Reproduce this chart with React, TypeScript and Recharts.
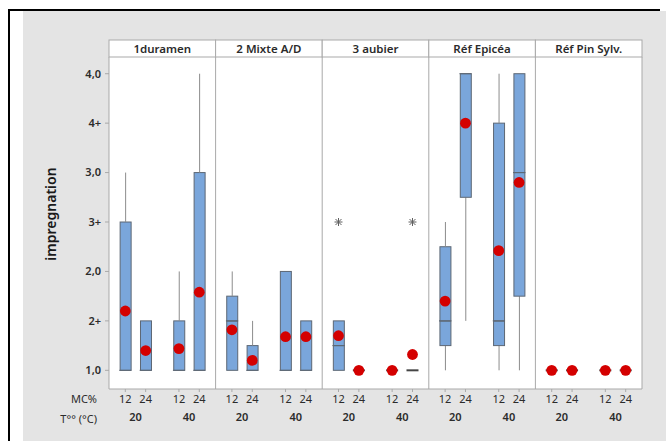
import React from 'react';
import {
  ComposedChart,
  Bar,
  Scatter,
  XAxis,
  YAxis,
  ReferenceLine,
} from 'recharts';

// ---- data ----
const panels = ['1duramen', '2 Mixte A/D', '3 aubier', 'Réf Epicéa', 'Réf Pin Sylv.'];
const temps = ['20', '40'];
const mcs = ['12', '24'];
const yTickValues = [1, 1.5, 2, 2.5, 3, 3.5, 4];
const yTickLabels = ['1,0', '2+', '2,0', '3+', '3,0', '4+', '4,0'];

// order: panel -> T (20, 40) -> MC (12, 24)
const whiskerLow = [
  1, 1, 1, 1,
  1, 1, 1, 1,
  1, 1, 1, 1,
  1, 1.5, 1, 1,
  1, 1, 1, 1,
];
const q1 = [
  1, 1, 1, 1,
  1, 1, 1, 1,
  1, 1, 1, 1,
  1.25, 2.75, 1.25, 1.75,
  1, 1, 1, 1,
];
const median = [
  1, 1, 1, 1,
  1.5, 1, 1, 1,
  1.25, 1, 1, 1,
  1.5, 4, 1.5, 3,
  1, 1, 1, 1,
];
const q3 = [
  2.5, 1.5, 1.5, 3,
  1.75, 1.25, 2, 1.5,
  1.5, 1, 1, 1,
  2.25, 4, 3.5, 4,
  1, 1, 1, 1,
];
const whiskerHigh = [
  3, 1.5, 2, 4,
  2, 1.5, 2, 1.5,
  1.5, 1, 1, 1,
  2.5, 4, 4, 4,
  1, 1, 1, 1,
];
const means = [
  1.6, 1.2, 1.22, 1.79,
  1.41, 1.1, 1.34, 1.34,
  1.35, 1, 1, 1.16,
  1.7, 3.5, 2.21, 2.9,
  1, 1, 1, 1,
];
const outliers: (number | null)[] = [
  null, null, null, null,
  null, null, null, null,
  2.5, null, null, 2.5,
  null, null, null, null,
  null, null, null, null,
];

// ---- layout constants ----
const slotOffsets = [0.153, 0.344, 0.656, 0.847];
const PANEL_PX = 533 / 5;
const BOX_PX = 11;
const FONT = '"Noto Sans", "Open Sans", sans-serif';
const TEXT = '#2b2b2b';
const GRID = '#a9a9a9';
const BOX_FILL = '#7aa6db';
const BOX_STROKE = '#5d6774';

const data: any[] = [];
panels.forEach((_, p) => {
  temps.forEach((_t, t) => {
    mcs.forEach((_m, m) => {
      const i = p * 4 + t * 2 + m;
      data.push({
        pos: p + slotOffsets[t * 2 + m],
        mc: mcs[m],
        base: whiskerLow[i],
        lowW: q1[i] - whiskerLow[i],
        lowB: median[i] - q1[i],
        upB: q3[i] - median[i],
        upW: whiskerHigh[i] - q3[i],
        median: median[i],
        collapsed: q3[i] === q1[i],
        mean: means[i],
        outlier: outliers[i],
      });
    });
  });
});

const mcTicks = data.map((d) => d.pos);
const groupTicks: { pos: number; label: string }[] = [];
panels.forEach((_, p) => {
  temps.forEach((t, ti) => {
    groupTicks.push({
      pos: p + (slotOffsets[ti * 2] + slotOffsets[ti * 2 + 1]) / 2,
      label: t,
    });
  });
});
const panelTicks = panels.map((_, p) => p + 0.5);

const near = (a: number, b: number) => Math.abs(a - b) < 1e-6;

const WhiskerShape = (props: any) => {
  const { x, y, width, height } = props;
  if (!height) return <g />;
  const cx = x + width / 2;
  return <line x1={cx} x2={cx} y1={y} y2={y + height} stroke="#8c8c8c" strokeWidth={1} />;
};

const BoxShape = (props: any) => {
  const { x, y, width, height } = props;
  if (!height) return <g />;
  return (
    <rect
      x={x}
      y={y}
      width={width}
      height={height}
      fill={BOX_FILL}
      stroke={BOX_STROKE}
      strokeWidth={1}
    />
  );
};

const MedianShape = (props: any) => {
  const { cx, cy, payload } = props;
  const collapsed = payload && payload.collapsed;
  return (
    <line
      x1={cx - BOX_PX / 2 - 0.5}
      x2={cx + BOX_PX / 2 + 0.5}
      y1={cy}
      y2={cy}
      stroke={collapsed ? '#454545' : BOX_STROKE}
      strokeWidth={collapsed ? 2 : 1}
    />
  );
};

const MeanShape = (props: any) => {
  const { cx, cy } = props;
  return <circle cx={cx} cy={cy} r={5.4} fill="#d40000" />;
};

const OutlierShape = (props: any) => {
  const { cx, cy, payload } = props;
  if (payload == null || payload.outlier == null) return <g />;
  const s = 4;
  const d = 3;
  return (
    <g stroke="#606060" strokeWidth={1}>
      <line x1={cx - s} x2={cx + s} y1={cy} y2={cy} />
      <line x1={cx} x2={cx} y1={cy - s} y2={cy + s} />
      <line x1={cx - d} x2={cx + d} y1={cy - d} y2={cy + d} />
      <line x1={cx - d} x2={cx + d} y1={cy + d} y2={cy - d} />
    </g>
  );
};

const HeaderTick = (props: any) => {
  const { x, payload } = props;
  const idx = Math.floor(payload.value);
  return (
    <g>
      <rect x={x - PANEL_PX / 2} y={40} width={PANEL_PX} height={17} fill="#ffffff" stroke={GRID} strokeWidth={1} />
      <text x={x} y={52.5} textAnchor="middle" fontFamily={FONT} fontSize={11.5} fontWeight={600} fill={TEXT}>
        {panels[idx]}
      </text>
    </g>
  );
};

const YLabel = () => (
  <text
    x={50}
    y={214}
    transform="rotate(-90 50 214)"
    textAnchor="middle"
    dominantBaseline="central"
    fontFamily={FONT}
    fontSize={14}
    fontWeight={600}
    fill="#1a1a1a"
  >
    impregnation
  </text>
);

export default function App() {
  return (
    <div style={{ position: 'absolute', left: 0, top: 0, width: 666, height: 441, background: '#ffffff', overflow: 'hidden' }}>
      {/* black frame */}
      <div style={{ position: 'absolute', left: 8, top: 9, width: 652, height: 2, background: '#000' }} />
      <div style={{ position: 'absolute', left: 8, top: 9, width: 2, height: 432, background: '#000' }} />
      {/* grey background */}
      <div style={{ position: 'absolute', left: 23, top: 11, width: 643, height: 430, background: '#e4e4e4' }} />
      {/* white plot area */}
      <div style={{ position: 'absolute', left: 109, top: 57, width: 533, height: 332, background: '#ffffff' }} />
      <div style={{ position: 'absolute', left: 0, top: 0 }}>
        <ComposedChart
          width={666}
          height={441}
          data={data}
          margin={{ top: 40, right: 24, bottom: 12, left: 0 }}
        >
          <XAxis
            xAxisId="hdr"
            orientation="top"
            type="number"
            dataKey="pos"
            domain={[0, 5]}
            ticks={panelTicks}
            interval={0}
            height={17}
            axisLine={false}
            tickLine={false}
            tick={<HeaderTick />}
          />
          <XAxis
            type="number"
            dataKey="pos"
            domain={[0, 5]}
            ticks={mcTicks}
            interval={0}
            height={20}
            stroke={GRID}
            tickSize={3}
            tickMargin={3}
            tickFormatter={(v: number) => {
              const d = data.find((e) => near(e.pos, v));
              return d ? d.mc : '';
            }}
            tick={{ fontFamily: FONT, fontSize: 11, fill: TEXT }}
            label={{ value: 'MC%', position: 'left', offset: 12, fontFamily: FONT, fontSize: 11, fill: TEXT }}
          />
          <XAxis
            xAxisId="grp"
            type="number"
            dataKey="pos"
            domain={[0, 5]}
            ticks={groupTicks.map((g) => g.pos)}
            interval={0}
            height={20}
            axisLine={false}
            tickLine={false}
            tickSize={0}
            tickMargin={4}
            tickFormatter={(v: number) => {
              const g = groupTicks.find((e) => near(e.pos, v));
              return g ? g.label : '';
            }}
            tick={{ fontFamily: FONT, fontSize: 11, fontWeight: 600, fill: TEXT }}
            label={{ value: 'T°° (°C)', position: 'left', offset: 12, fontFamily: FONT, fontSize: 11, fill: TEXT }}
          />
          <YAxis
            type="number"
            domain={[0.811, 4.169]}
            allowDataOverflow
            ticks={yTickValues}
            interval={0}
            width={109}
            stroke={GRID}
            tickSize={4}
            tickMargin={4}
            tickFormatter={(v: number) => {
              const i = yTickValues.findIndex((t) => near(t, v));
              return i >= 0 ? yTickLabels[i] : '';
            }}
            tick={{ fontFamily: FONT, fontSize: 11, fontWeight: 600, fill: TEXT }}
            label={<YLabel />}
          />
          {[1, 2, 3, 4, 5].map((x) => (
            <ReferenceLine key={x} x={x} stroke={GRID} strokeWidth={1} />
          ))}
          <Bar dataKey="base" stackId="box" barSize={BOX_PX} fill="none" isAnimationActive={false} shape={() => <g />} />
          <Bar dataKey="lowW" stackId="box" barSize={BOX_PX} isAnimationActive={false} shape={<WhiskerShape />} />
          <Bar dataKey="lowB" stackId="box" barSize={BOX_PX} isAnimationActive={false} shape={<BoxShape />} />
          <Bar dataKey="upB" stackId="box" barSize={BOX_PX} isAnimationActive={false} shape={<BoxShape />} />
          <Bar dataKey="upW" stackId="box" barSize={BOX_PX} isAnimationActive={false} shape={<WhiskerShape />} />
          <Scatter dataKey="median" isAnimationActive={false} shape={<MedianShape />} />
          <Scatter dataKey="outlier" isAnimationActive={false} shape={<OutlierShape />} />
          <Scatter dataKey="mean" isAnimationActive={false} shape={<MeanShape />} />
        </ComposedChart>
      </div>
    </div>
  );
}
